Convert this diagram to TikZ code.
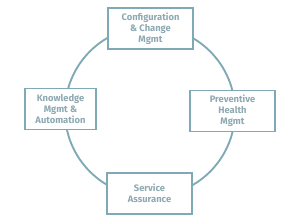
\documentclass[tikz,border=0pt]{standalone}
\usepackage{fontspec}
\setmainfont{Fira Sans}
\usepackage{tikz}

\definecolor{ringblue}{HTML}{7FA9B5}
\definecolor{labgrey}{HTML}{8EA9B2}

\begin{document}
\begin{tikzpicture}[
  x=0.03cm, y=-0.03cm,
  ring/.style={draw=ringblue, line width=1.6pt},
  area/.style={draw=ringblue, line width=1.6pt, fill=white, minimum height=1.23cm,
    align=center, inner sep=1pt, text=labgrey,
    font=\fontsize{8}{9.3}\selectfont\bfseries}
]
\useasboundingbox (0,0) rectangle (300,223);

% Cycle
\node[ring, circle, minimum size=5.1cm, inner sep=0pt] (cycle) at (150,111.5) {};

% Areas
\node[area, minimum width=2.55cm] (Config) at (150.5,28.5)  {Configuration\\\& Change\\Mgmt};
\node[area, minimum width=2.13cm] (Know)   at (60.5,109)    {Knowledge\\Mgmt \&\\Automation};
\node[area, minimum width=2.55cm] (Prev)   at (232.5,111)   {Preventive\\Health\\Mgmt};
\node[area, minimum width=2.55cm] (Serv)   at (149.5,193.5) {Service\\Assurance};

\end{tikzpicture}
\end{document}
